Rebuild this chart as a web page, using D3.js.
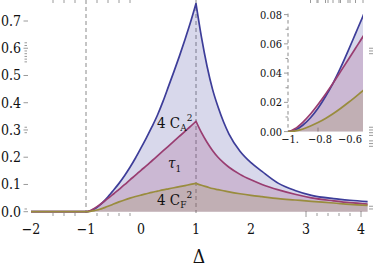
<!DOCTYPE html>
<html><head><meta charset="utf-8">
<script src="https://cdn.jsdelivr.net/npm/d3@7"></script>
<style>html,body{margin:0;padding:0;background:#fff}svg{display:block}</style>
</head><body>
<svg id="c" width="374" height="268"></svg>
<script>
// ---- data ----
const deltaLeft = [-2,-1,-0.95,-0.9,-0.85,-0.8,-0.75,-0.7,-0.65,-0.6,-0.55,-0.5,-0.4,-0.3,-0.2,-0.1,0,0.1,0.2,0.3,0.4,0.5,0.6,0.7,0.8,0.9,1];
const deltaRight = [1,1.1,1.2,1.3,1.4,1.5,1.6,1.8,2.0,2.2,2.5,2.8,3.1,3.5,3.8,4.12];
const ca2Left = [0,0,0.0012,0.0045,0.0095,0.016,0.024,0.033,0.0435,0.055,0.067,0.079,0.104,0.132,0.163,0.197,0.234,0.272,0.312,0.355,0.405,0.46,0.515,0.572,0.632,0.695,0.764];
const ca2Right = [0.764,0.64,0.535,0.45,0.385,0.33,0.285,0.222,0.18,0.148,0.104,0.078,0.06,0.048,0.042,0.037];
const tauLeft = [0,0,0.0022,0.0065,0.012,0.0185,0.0255,0.033,0.041,0.049,0.057,0.065,0.082,0.099,0.117,0.134,0.152,0.169,0.187,0.205,0.223,0.241,0.259,0.277,0.295,0.313,0.332];
const tauRight = [0.332,0.29,0.255,0.225,0.2,0.18,0.163,0.137,0.117,0.1,0.08,0.064,0.051,0.04,0.033,0.028];
const cf2Left = [0,0,0.0005,0.0018,0.0038,0.0062,0.009,0.0122,0.0158,0.0197,0.0238,0.028,0.036,0.0432,0.0497,0.0557,0.061,0.066,0.071,0.0755,0.08,0.084,0.088,0.092,0.096,0.1,0.104];
const cf2Right = [0.104,0.097,0.091,0.085,0.081,0.077,0.073,0.066,0.06,0.055,0.048,0.043,0.038,0.032,0.027,0.023];

const xTickLabels = [-2,-1,0,1,2,3,4];
const yTickLabels = [0,0.1,0.2,0.3,0.4,0.5,0.6,0.7];
const xMinorTicks = [-1.6,-1.4,-1.2,-0.8,-0.6,-0.4,-0.2,3.2,3.4,3.6,3.8];
const xMajorTicks = [3,4];
const yLeftMinor = [0.55,0.56,0.57,0.58,0.59,0.61,0.62,0.29,0.31,0.01];
const yRightMinor = [0.58,0.59,0.6,0.24,0.25,0.26,0.28,0.29,0.3,0.31,0.01,0.02];
const insetXLabels = [-1,-0.8,-0.6];
const insetXLabelText = ["\u22121.","\u22120.8","\u22120.6"];
const insetYLabels = [0,0.02,0.04,0.06,0.08];
const insetYMinor = [0.01,0.03,0.05,0.07];
const insetTopTicks = [-0.85,-0.8,-0.75,-0.7,-0.65,-0.6,-0.55,-0.5];

const colors = ["#3d3d99","#993d71","#998c3d"];
const series = [
  {L: ca2Left, R: ca2Right},
  {L: tauLeft, R: tauRight},
  {L: cf2Left, R: cf2Right}
];

const FONT = "DejaVu Serif";
const svg = d3.select("#c");

const x = d3.scaleLinear().domain([-2,4]).range([31,361]);
const y = d3.scaleLinear().domain([0,0.7]).range([211.7,21]);
const xi = d3.scaleLinear().domain([-1,-0.5]).range([288,363]);
const yi = d3.scaleLinear().domain([0,0.08]).range([131.6,14.6]);

function buildPath(sx, sy, vL, vR, closeArea) {
  const p = d3.path(); let started = false;
  const ctx = {
    moveTo(a,b){ if(started) p.lineTo(a,b); else { p.moveTo(a,b); started = true; } },
    lineTo(a,b){ p.lineTo(a,b); },
    bezierCurveTo(a,b,c,d,e,f){ p.bezierCurveTo(a,b,c,d,e,f); },
    closePath(){ p.closePath(); }
  };
  const line = d3.line().x(d=>sx(d[0])).y(d=>sy(d[1])).curve(d3.curveMonotoneX).context(ctx);
  line(d3.zip(deltaLeft, vL));
  line(d3.zip(deltaRight, vR));
  if (closeArea) {
    p.lineTo(sx(deltaRight[deltaRight.length-1]), sy(0));
    p.lineTo(sx(deltaLeft[0]), sy(0));
    p.closePath();
  }
  return p.toString();
}
function txt(sel) {
  return sel.attr("font-family",FONT).attr("font-stretch","condensed").attr("fill","#111");
}

const tickCol = "#9a9a9a";
[-1,1].forEach(v => {
  svg.append("line").attr("x1",x(v)).attr("x2",x(v)).attr("y1",0).attr("y2",213)
    .attr("stroke","#8a8a8a").attr("stroke-width",1).attr("stroke-dasharray","4,3");
});
xMinorTicks.forEach(v => {
  svg.append("line").attr("x1",x(v)).attr("x2",x(v)).attr("y1",213).attr("y2",216).attr("stroke",tickCol);
  svg.append("line").attr("x1",x(v)).attr("x2",x(v)).attr("y1",0).attr("y2",3).attr("stroke",tickCol);
});
xMajorTicks.forEach(v => {
  svg.append("line").attr("x1",x(v)).attr("x2",x(v)).attr("y1",211).attr("y2",217).attr("stroke",tickCol);
});
yTickLabels.forEach(v => {
  svg.append("line").attr("x1",23.5).attr("x2",28).attr("y1",y(v)).attr("y2",y(v)).attr("stroke",tickCol);
});
yLeftMinor.forEach(v => {
  svg.append("line").attr("x1",24.5).attr("x2",27).attr("y1",y(v)).attr("y2",y(v)).attr("stroke",tickCol);
});
yRightMinor.forEach(v => {
  svg.append("line").attr("x1",369).attr("x2",373).attr("y1",y(v)).attr("y2",y(v)).attr("stroke",tickCol);
});

series.forEach((s,i) => {
  svg.append("path").attr("d", buildPath(x,y,s.L,s.R,true))
    .attr("fill",colors[i]).attr("fill-opacity",0.2).attr("stroke","none");
});
series.forEach((s,i) => {
  svg.append("path").attr("d", buildPath(x,y,s.L,s.R,false))
    .attr("fill","none").attr("stroke",colors[i]).attr("stroke-width",1.7).attr("stroke-linejoin","round");
});

txt(svg.selectAll("text.xl").data(xTickLabels).enter().append("text"))
  .attr("x",d=>x(d)).attr("y",234).attr("text-anchor","middle").attr("font-size",14)
  .text(d=> d<0 ? "\u2212"+Math.abs(d) : String(d));
txt(svg.selectAll("text.yl").data(yTickLabels).enter().append("text"))
  .attr("x",21).attr("y",d=>y(d)+5).attr("text-anchor","end").attr("font-size",14)
  .text(d=>d.toFixed(1));

txt(svg.append("text")).attr("x",199).attr("y",263).attr("text-anchor","middle")
  .attr("font-size",19).text("\u0394");

const lA = txt(svg.append("text")).attr("x",157).attr("y",128).attr("font-size",15);
lA.append("tspan").text("4 C");
lA.append("tspan").attr("font-size",10).attr("dy",3).text("A");
lA.append("tspan").attr("font-size",10).attr("dy",-10).text("2");
const lT = txt(svg.append("text")).attr("x",168).attr("y",168).attr("font-size",15);
lT.append("tspan").attr("font-style","italic").text("\u03C4");
lT.append("tspan").attr("font-size",10).attr("dy",4).text("1");
const lF = txt(svg.append("text")).attr("x",157).attr("y",205).attr("font-size",15);
lF.append("tspan").text("4 C");
lF.append("tspan").attr("font-size",10).attr("dy",3).text("F");
lF.append("tspan").attr("font-size",10).attr("dy",-10).text("2");

const defs = svg.append("defs");
defs.append("clipPath").attr("id","ic").append("rect")
  .attr("x",xi(-1)).attr("y",0).attr("width",xi(-0.5)-xi(-1)).attr("height",yi(0)+0.5);
const g = svg.append("g");
g.append("line").attr("x1",xi(-1)).attr("x2",xi(-1)).attr("y1",yi(0.08)-1).attr("y2",yi(0))
  .attr("stroke","#8a8a8a").attr("stroke-dasharray","3.5,3");
insetYLabels.forEach(v => {
  g.append("line").attr("x1",284).attr("x2",288).attr("y1",yi(v)).attr("y2",yi(v)).attr("stroke",tickCol);
});
insetYMinor.forEach(v => {
  g.append("line").attr("x1",285.5).attr("x2",288).attr("y1",yi(v)).attr("y2",yi(v)).attr("stroke",tickCol);
});
insetTopTicks.forEach(v => {
  g.append("line").attr("x1",xi(v)).attr("x2",xi(v)).attr("y1",0).attr("y2",3).attr("stroke",tickCol);
});
g.append("line").attr("x1",xi(-0.8)).attr("x2",xi(-0.8)).attr("y1",yi(0)-4).attr("y2",yi(0)).attr("stroke",tickCol);
const gc = g.append("g").attr("clip-path","url(#ic)");
series.forEach((s,i) => {
  gc.append("path").attr("d", buildPath(xi,yi,s.L,s.R,true))
    .attr("fill",colors[i]).attr("fill-opacity",0.2);
});
series.forEach((s,i) => {
  gc.append("path").attr("d", buildPath(xi,yi,s.L,s.R,false))
    .attr("fill","none").attr("stroke",colors[i]).attr("stroke-width",1.7);
});
txt(g.selectAll("text.iy").data(insetYLabels).enter().append("text"))
  .attr("x",282).attr("y",d=>yi(d)+4).attr("text-anchor","end").attr("font-size",11)
  .text(d=>d.toFixed(2));
txt(g.selectAll("text.ix").data(insetXLabels).enter().append("text"))
  .attr("x",d=>xi(d)+2).attr("y",143).attr("text-anchor","middle").attr("font-size",11)
  .text((d,i)=>insetXLabelText[i]);
</script>
</body></html>
